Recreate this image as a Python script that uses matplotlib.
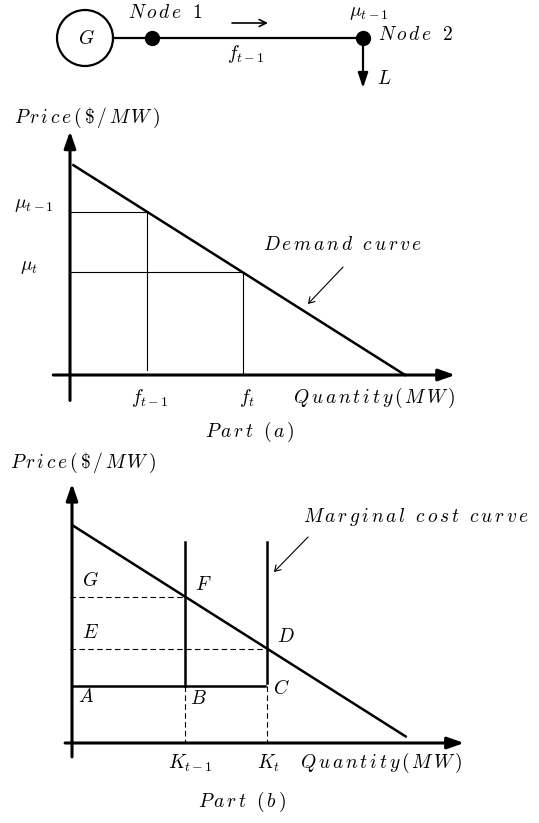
import matplotlib
matplotlib.use('Agg')
import matplotlib.pyplot as plt
from matplotlib.patches import Circle, FancyArrowPatch

plt.rcParams['mathtext.fontset'] = 'cm'

W, H = 539, 823

# network (top sketch)
NODE_NAMES = ['G', 'Node 1', 'Node 2']
NODE_POS = [0, 67, 278]
G_RADIUS = 28
LOAD_DROP = 50

# part (a): linear demand curve p = DEMAND_MAX - q
DEMAND_MAX = 10
FLOWS = [2.3, 5.15]
FLOW_LABELS = [r'$f_{t-1}$', r'$f_t$']
PRICE_LABELS = [r'$\mu_{t-1}$', r'$\mu_t$']

# part (b): capacities and marginal cost step
CAPS = [3.28, 5.67]
CAP_LABELS = [r'$K_{t-1}$', r'$K_t$']
MC_FLOOR = 2.6
MC_TOP = 9.2

FS = 14


def demand(q):
    return DEMAND_MAX - q


def spaced(text):
    out = []
    for ch in text:
        if ch == ' ':
            out.append(r'\ ')
        elif ch == '$':
            out.append(r'\$')
        else:
            out.append(ch)
    return '$' + r'\,'.join(out) + '$'


def fxy(px, py):
    return px / W, 1 - py / H


def label(px, py, s, ha='left', fs=FS):
    x, y = fxy(px, py)
    fig.text(x, y, s, ha=ha, va='center', fontsize=fs)


def pointer(p0, p1):
    fig.add_artist(FancyArrowPatch(
        fxy(*p0), fxy(*p1), transform=fig.transFigure,
        arrowstyle='->,head_length=4,head_width=2.5', lw=0.8, color='k'))


def diagram_axes(origin, scale):
    ox, oy = origin
    sx, sy = scale
    ax = fig.add_axes([0, 0, 1, 1])
    ax.set_xlim(-ox / sx, (W - ox) / sx)
    ax.set_ylim((oy - H) / sy, oy / sy)
    ax.axis('off')
    ax.patch.set_alpha(0)
    return ax


def axis_arrow(ax, start, tip):
    ax.annotate('', xy=tip, xytext=start,
                arrowprops=dict(arrowstyle='-|>,head_length=1.0,head_width=0.35',
                                lw=2.2, color='k', shrinkA=0, shrinkB=0))


fig = plt.figure(figsize=(W / 100, H / 100), dpi=100)

# ---- network ----
net = diagram_axes((85, 38), (1, 1))
net.add_patch(Circle((NODE_POS[0], 0), G_RADIUS, fill=False, lw=1.6, color='k'))
net.plot([NODE_POS[0] + G_RADIUS, NODE_POS[2]], [0, 0], color='k', lw=1.6)
net.plot(NODE_POS[1:], [0, 0], 'o', color='k', ms=10)
net.annotate('', xy=(NODE_POS[2], -LOAD_DROP), xytext=(NODE_POS[2], -7),
             arrowprops=dict(arrowstyle='-|>,head_length=0.9,head_width=0.3',
                             lw=1.6, color='k', shrinkA=0, shrinkB=0))
net.annotate('', xy=(183, 15), xytext=(147, 15),
             arrowprops=dict(arrowstyle='->,head_length=0.5,head_width=0.25',
                             lw=1.2, color='k', shrinkA=0, shrinkB=0))
label(86, 38, r'$G$', ha='center')
label(128, 12, spaced(NODE_NAMES[1]))
label(369, 12, r'$\mu_{t-1}$', ha='center')
label(378, 34, spaced(NODE_NAMES[2]))
label(246, 54, r'$f_{t-1}$', ha='center')
label(377, 79, r'$L$')

# ---- part (a) ----
axa = diagram_axes((70, 375), (33.5, 21.2))
axis_arrow(axa, (0, -1.2), (0, 11.5))
axis_arrow(axa, (-0.5, 0), (11.5, 0))
axa.plot([0.1, DEMAND_MAX], [demand(0.1), 0], color='k', lw=1.8)
bottoms = [0.25, 0]
for f, b in zip(FLOWS, bottoms):
    axa.plot([0, f, f], [demand(f), demand(f), b], color='k', lw=0.8)

label(14, 118, spaced('Price($/MW)'))
label(14, 205, PRICE_LABELS[0])
label(20, 267, PRICE_LABELS[1])
label(263, 244, spaced('Demand curve'))
pointer((345, 265), (306, 306))
label(150, 398, FLOW_LABELS[0], ha='center')
label(247, 398, FLOW_LABELS[1], ha='center')
label(293, 398, spaced('Quantity(MW)'))
label(250, 432, spaced('Part (a)'), ha='center')

# ---- part (b) ----
axb = diagram_axes((72, 743), (34.4, 21.8))
axis_arrow(axb, (0, -0.64), (0, 11.9))
axis_arrow(axb, (-0.2, 0), (11.4, 0))
axb.plot([0.03, 9.7], [demand(0.03), demand(9.7)], color='k', lw=1.8)
axb.plot([0, CAPS[1] - 0.05], [MC_FLOOR, MC_FLOOR], color='k', lw=1.8)
axb.plot([CAPS[0], CAPS[0]], [MC_FLOOR, MC_TOP], color='k', lw=1.8)
axb.plot([CAPS[1], CAPS[1]], [MC_FLOOR + 0.15, MC_TOP], color='k', lw=1.8)
for k in CAPS:
    axb.plot([-0.05, k], [demand(k), demand(k)], color='k', lw=0.8, ls=(0, (5, 3)))
    axb.plot([k, k], [MC_FLOOR, 0], color='k', lw=0.8, ls=(0, (5, 3)))

label(10, 463, spaced('Price($/MW)'))
label(303, 517, spaced('Marginal cost curve'))
pointer((310, 535), (272, 574))
for name, px, py in [('G', 82, 580), ('F', 195, 584), ('E', 82, 632), ('D', 277, 637),
                     ('A', 78, 697), ('B', 190, 699), ('C', 273, 689)]:
    label(px, py, '$' + name + '$')
label(190, 763, CAP_LABELS[0], ha='center')
label(268, 763, CAP_LABELS[1], ha='center')
label(300, 763, spaced('Quantity(MW)'))
label(242, 802, spaced('Part (b)'), ha='center')

fig.savefig('out.png', dpi=100, facecolor='white')
